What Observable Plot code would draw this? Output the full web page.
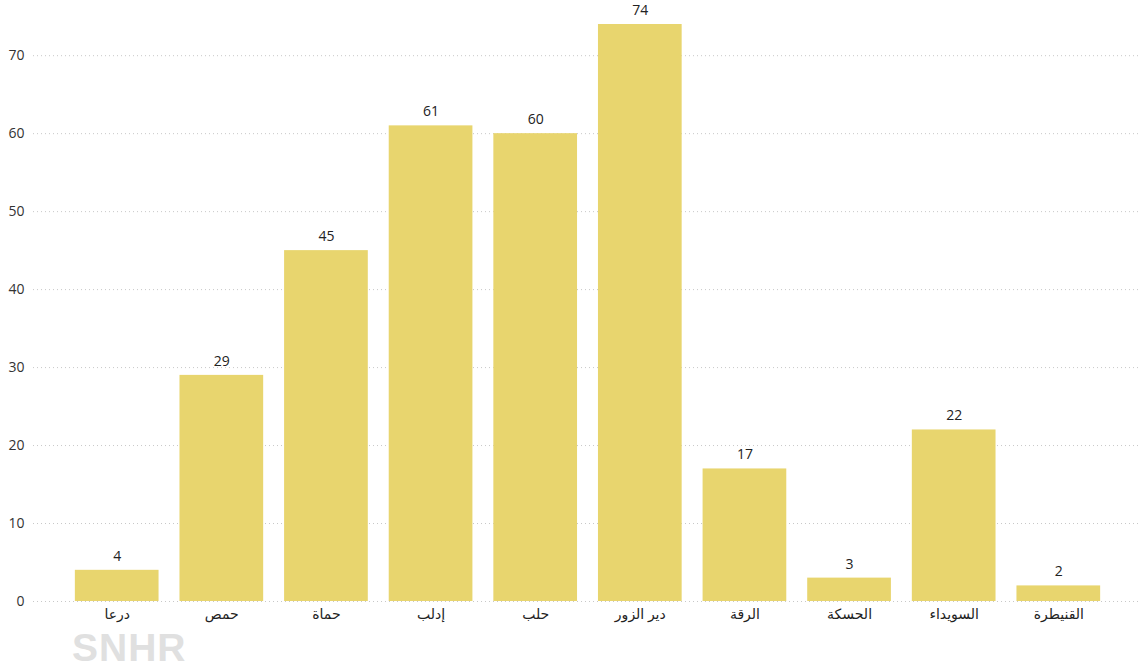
<!DOCTYPE html>
<html>
<head>
<meta charset="utf-8">
<script src="https://cdn.jsdelivr.net/npm/d3@7"></script>
<script src="https://cdn.jsdelivr.net/npm/@observablehq/plot@0.6"></script>
<style>
  html, body { margin: 0; padding: 0; background: #fff; overflow: hidden; }
  #wrap { position: relative; width: 1139px; height: 670px; overflow: hidden; }
  #wrap svg { display: block; }
  #logo { position: absolute; left: 72px; top: 633px; height: 30px; font: 700 39px/30px "Liberation Sans", "DejaVu Sans", sans-serif; color: #e0e0e0; letter-spacing: 1px; }
</style>
</head>
<body>
<div id="wrap"><div id="logo">SNHR</div></div>
<script>
const governorates = ["درعا", "حمص", "حماة", "إدلب", "حلب", "دير الزور", "الرقة", "الحسكة", "السويداء", "القنيطرة"];
const counts = [4, 29, 45, 61, 60, 74, 17, 3, 22, 2];
const yTicks = [0, 10, 20, 30, 40, 50, 60, 70];

const data = governorates.map((g, i) => ({g, v: counts[i]}));

const chart = Plot.plot({
  width: 1139,
  height: 670,
  marginTop: 24,
  marginBottom: 69,
  marginLeft: 33,
  marginRight: 0,
  style: {fontFamily: "'Open Sans', 'DejaVu Sans', sans-serif", fontSize: "13px", color: "#222", background: "#fff"},
  x: {domain: governorates, range: [33, 1142], round: false, paddingInner: 0.2, paddingOuter: 0.4, label: null},
  y: {domain: [0, 74], label: null, ticks: yTicks},
  marks: [
    Plot.gridY(yTicks, {stroke: "#c8c8c8", strokeOpacity: 1, strokeDasharray: "1,3"}),
    Plot.barY(data, {x: "g", y: "v", fill: "#E8D56E"}),
    Plot.text(data, {x: "g", y: "v", text: d => String(d.v), dy: -14, fontSize: 14, fill: "#222"}),
    Plot.axisY({ticks: yTicks, tickSize: 0, tickPadding: 9, fontSize: 14, fill: "#333"}),
    Plot.axisX({tickSize: 0, tickPadding: 8, fontSize: 14, fill: "#222"})
  ]
});
document.getElementById("wrap").prepend(chart);
</script>
</body>
</html>
